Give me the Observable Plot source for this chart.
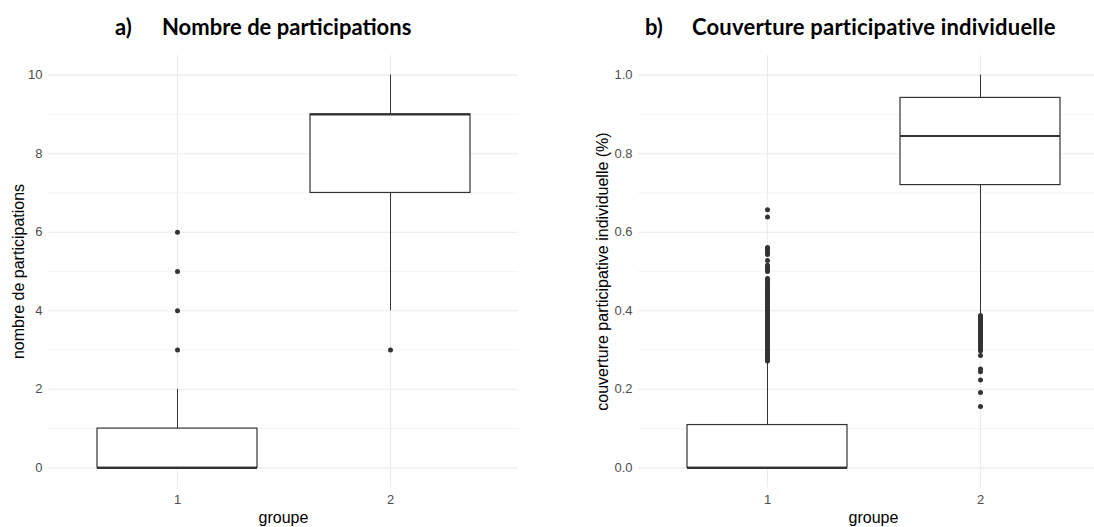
<!DOCTYPE html>
<html>
<head>
<meta charset="utf-8">
<script src="https://cdn.jsdelivr.net/npm/d3@7"></script>
<script src="https://cdn.jsdelivr.net/npm/@observablehq/plot@0.6"></script>
<style>
  html, body { margin: 0; padding: 0; background: #fff; }
  body { width: 1094px; height: 527px; overflow: hidden; position: relative; }
  .panel { position: absolute; top: 0; }
  .panel svg { max-width: none !important; overflow: visible; font-family: "Liberation Sans", Arial, sans-serif !important; }
  .panel svg text { font-family: "Liberation Sans", Arial, sans-serif; }
  .title { position: absolute; top: 14px; font-family: Lato, "Open Sans", sans-serif; font-weight: 700; font-size: 22px; color: #000; white-space: nowrap; line-height: 26px; }
</style>
</head>
<body>
<div class="panel" id="pa" style="left:0px;width:547px"></div>
<div class="panel" id="pb" style="left:547px;width:561px"></div>
<div class="title" style="left:115px">a)</div>
<div class="title" style="left:162px">Nombre de participations</div>
<div class="title" style="left:645px">b)</div>
<div class="title" style="left:692px;letter-spacing:0.2px">Couverture participative individuelle</div>
<script>
// ---- shared categories ----
const groups = ["1", "2"];

// ---- panel a: nombre de participations ----
const aQ1 = [0, 7];
const aMedian = [0, 9];
const aQ3 = [1, 9];
const aLower = [0, 4];
const aUpper = [2, 10];
const aOutliers1 = [3, 4, 5, 6];
const aOutliers2 = [3];
const aTicks = [0, 2, 4, 6, 8, 10];
const aMinorTicks = [1, 3, 5, 7, 9];
const aYLabel = "nombre de participations";

// ---- panel b: couverture participative individuelle ----
const bQ1 = [0, 0.72];
const bMedian = [0, 0.845];
const bQ3 = [0.109, 0.942];
const bLower = [0, 0.39];
const bUpper = [0.27, 1.0];
const bOutliers1 = [0.272, 0.276, 0.281, 0.285, 0.29, 0.294, 0.299, 0.303, 0.308, 0.312,
  0.317, 0.321, 0.326, 0.33, 0.335, 0.339, 0.344, 0.348, 0.353, 0.357, 0.362, 0.366,
  0.371, 0.375, 0.38, 0.384, 0.389, 0.393, 0.398, 0.402, 0.407, 0.411, 0.416, 0.42,
  0.425, 0.429, 0.434, 0.438, 0.443, 0.447, 0.452, 0.456, 0.461, 0.465, 0.47, 0.474,
  0.479, 0.482, 0.5, 0.505, 0.511, 0.516, 0.528, 0.543, 0.548, 0.553, 0.558, 0.561,
  0.639, 0.657];
const bOutliers2 = [0.156, 0.192, 0.224, 0.245, 0.252, 0.286, 0.298, 0.302, 0.307, 0.311,
  0.316, 0.32, 0.325, 0.329, 0.334, 0.338, 0.343, 0.347, 0.352, 0.356, 0.361, 0.365,
  0.37, 0.374, 0.379, 0.383, 0.388];
const bTicks = [0, 0.2, 0.4, 0.6, 0.8, 1.0];
const bMinorTicks = [0.1, 0.3, 0.5, 0.7, 0.9];
const bYLabel = "couverture participative individuelle (%)";

const xLabel = "groupe";

function panel({q1, median, q3, lower, upper, out1, out2, ticks, minor, yDomain, yLabel, fmt, width, marginLeft, marginRight, labelDx}) {
  const boxes = groups.map((g, i) => ({group: g, q1: q1[i], median: median[i], q3: q3[i], lower: lower[i], upper: upper[i]}));
  const outliers = [
    ...out1.map(v => ({group: groups[0], value: v})),
    ...out2.map(v => ({group: groups[1], value: v}))
  ];
  return Plot.plot({
    width, height: 527,
    marginLeft, marginRight, marginTop: 55, marginBottom: 40,
    style: {fontFamily: "'Liberation Sans', Arial, sans-serif", fontSize: "13px", color: "#4d4d4d", background: "transparent", maxWidth: "none"},
    x: {type: "band", domain: groups, paddingInner: 0.25, paddingOuter: 0.225, align: 0.5},
    y: {domain: yDomain},
    marks: [
      Plot.ruleY(minor, {stroke: "#f2f2f2", strokeWidth: 0.8}),
      Plot.ruleY(ticks, {stroke: "#ebebeb", strokeWidth: 1.1}),
      Plot.ruleX(groups, {x: d => d, stroke: "#ebebeb", strokeWidth: 1.1}),
      Plot.ruleX(boxes, {x: "group", y1: "q3", y2: "upper", stroke: "#333333", strokeWidth: 1}),
      Plot.ruleX(boxes, {x: "group", y1: "lower", y2: "q1", stroke: "#333333", strokeWidth: 1}),
      Plot.barY(boxes, {x: "group", y1: "q1", y2: "q3", fill: "white", stroke: "#333333", strokeWidth: 1.2}),
      Plot.tickY(boxes, {x: "group", y: "median", stroke: "#333333", strokeWidth: 2.2}),
      Plot.dot(outliers, {x: "group", y: "value", r: 2.5, fill: "#333333", stroke: "none"}),
      Plot.axisY({ticks, tickSize: 0, tickPadding: 6, label: null, tickFormat: fmt}),
      Plot.axisX({tickSize: 0, tickPadding: 7, label: null}),
      Plot.text([yLabel], {frameAnchor: "left", rotate: -90, dx: labelDx, textAnchor: "middle", lineAnchor: "middle", fontSize: 16, fill: "black"}),
      Plot.text([xLabel], {frameAnchor: "bottom", dy: 30, textAnchor: "middle", lineAnchor: "middle", fontSize: 16, fill: "black"})
    ]
  });
}

document.getElementById("pa").append(panel({
  q1: aQ1, median: aMedian, q3: aQ3, lower: aLower, upper: aUpper,
  out1: aOutliers1, out2: aOutliers2, ticks: aTicks, minor: aMinorTicks,
  yDomain: [-0.5, 10.5], yLabel: aYLabel, fmt: d3.format("d"),
  width: 547, marginLeft: 48, marginRight: 29, labelDx: -30
}));
document.getElementById("pb").append(panel({
  q1: bQ1, median: bMedian, q3: bQ3, lower: bLower, upper: bUpper,
  out1: bOutliers1, out2: bOutliers2, ticks: bTicks, minor: bMinorTicks,
  yDomain: [-0.05, 1.05], yLabel: bYLabel, fmt: d3.format(".1f"),
  width: 561, marginLeft: 91, marginRight: 0, labelDx: -36
}));
</script>
</body>
</html>
